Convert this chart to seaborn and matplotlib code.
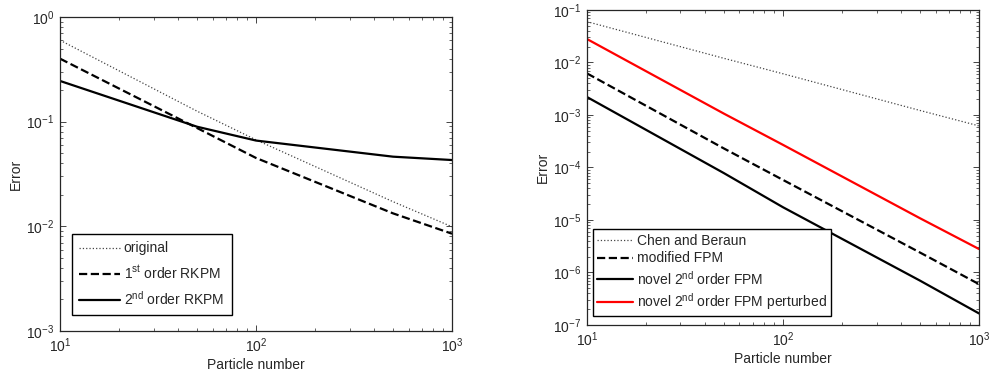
#--Convergence of particle methods: error vs particle number (log-log)--#
import numpy as np
import pandas as pd
import seaborn as sns
import matplotlib.pyplot as plt
from matplotlib.ticker import NullFormatter

#--Data--#
particles = [10, 50, 100, 500, 1000]

# left panel (RKPM)
err_original = [0.60, 0.126, 0.067, 0.0172, 0.0099]
err_rkpm1 = [0.40, 0.087, 0.045, 0.0133, 0.0085]
err_rkpm2 = [0.245, 0.0895, 0.066, 0.0463, 0.043]

# right panel (FPM)
err_chen = [0.060, 0.012, 0.0061, 0.00122, 0.00062]
err_mod_fpm = [6.2e-3, 2.3e-4, 5.8e-5, 2.4e-6, 6.0e-7]
err_novel = [2.2e-3, 7.8e-5, 1.75e-5, 7.0e-7, 1.66e-7]
err_novel_pert = [2.8e-2, 1.06e-3, 2.7e-4, 1.08e-5, 2.8e-6]

left_labels = ['original', r'1$^{\mathrm{st}}$ order RKPM', r'2$^{\mathrm{nd}}$ order RKPM']
right_labels = ['Chen and Beraun', 'modified FPM',
                r'novel 2$^{\mathrm{nd}}$ order FPM',
                r'novel 2$^{\mathrm{nd}}$ order FPM perturbed']

#--Style--#
sns.set_style('ticks')
plt.rcParams['font.family'] = ['Liberation Sans', 'DejaVu Sans']
plt.rcParams['mathtext.fontset'] = 'custom'
plt.rcParams['mathtext.rm'] = 'Liberation Sans'
plt.rcParams['mathtext.it'] = 'Liberation Sans:italic'
plt.rcParams['mathtext.bf'] = 'Liberation Sans:bold'
plt.rcParams['font.size'] = 10

fig = plt.figure(figsize=(9.92, 3.73), dpi=100)
ax1 = fig.add_axes([0.0605, 0.1126, 0.3952, 0.8418])
ax2 = fig.add_axes([0.5917, 0.1287, 0.3952, 0.8445])

styles = [
    dict(color='#444444', linestyle=':', linewidth=0.9, dashes=(1.0, 2.6)),
    dict(color='black', linestyle='--', linewidth=1.6, dashes=(3.4, 2.0)),
    dict(color='black', linestyle='-', linewidth=1.6),
    dict(color='red', linestyle='-', linewidth=1.6),
]

for y, lab, st in zip([err_original, err_rkpm1, err_rkpm2], left_labels, styles):
    sns.lineplot(x=particles, y=y, ax=ax1, label=lab, **st)

for y, lab, st in zip([err_chen, err_mod_fpm, err_novel, err_novel_pert], right_labels, styles):
    sns.lineplot(x=particles, y=y, ax=ax2, label=lab, **st)

for ax, ylim in [(ax1, (1e-3, 1e0)), (ax2, (1e-7, 1e-1))]:
    ax.set_xscale('log')
    ax.set_yscale('log')
    ax.set_xlim(10, 1000)
    ax.set_ylim(*ylim)
    ax.set_xlabel('Particle number', fontsize=10, labelpad=2)
    ax.set_ylabel('Error', fontsize=10)
    ax.tick_params(which='both', direction='in', top=True, right=True, labelsize=10)
    ax.tick_params(which='major', length=4, width=0.6, pad=4)
    ax.tick_params(which='minor', length=2, width=0.5)
    ax.xaxis.set_minor_formatter(NullFormatter())
    ax.yaxis.set_minor_formatter(NullFormatter())
    for sp in ax.spines.values():
        sp.set_visible(True)
        sp.set_linewidth(0.9)
    ax.yaxis.set_label_coords(-0.095, 0.5)

leg1 = ax1.legend(loc='lower left', bbox_to_anchor=(0.03, 0.05), borderaxespad=0,
                  fontsize=10, handlelength=2.9, frameon=True, fancybox=False,
                  borderpad=0.55, labelspacing=0.6, handletextpad=0.3)
leg2 = ax2.legend(loc='lower left', bbox_to_anchor=(0.015, 0.028), borderaxespad=0,
                  fontsize=10, handlelength=2.6, frameon=True, fancybox=False,
                  borderpad=0.3, labelspacing=0.28, handletextpad=0.3)
for leg in (leg1, leg2):
    leg.get_frame().set_edgecolor('black')
    leg.get_frame().set_linewidth(1.0)
    leg.get_frame().set_alpha(1.0)

plt.savefig('out.png', dpi=100)
